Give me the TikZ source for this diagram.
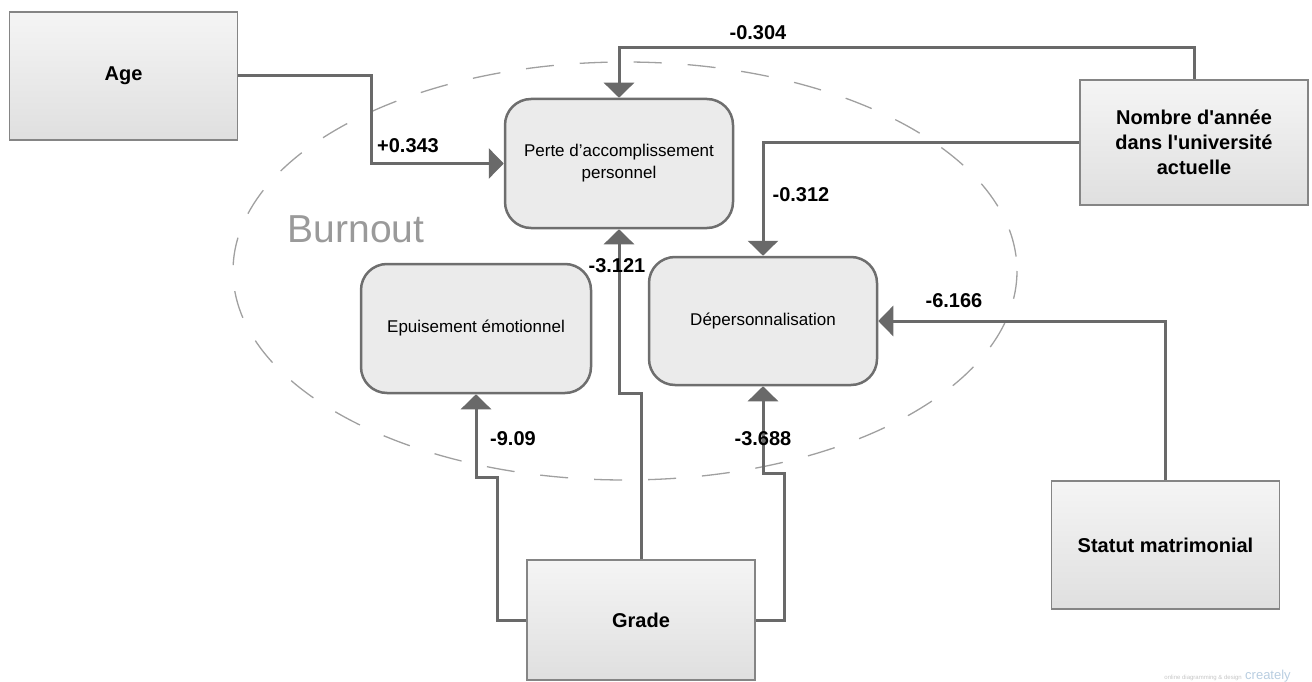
\documentclass[tikz,border=0pt]{standalone}
\usepackage{fontspec}
\setmainfont{Liberation Sans}
\usetikzlibrary{arrows.meta}
\definecolor{linegray}{HTML}{696969}
\definecolor{boxborder}{HTML}{858585}
\definecolor{roundborder}{HTML}{6E6E6E}
\definecolor{roundfill}{HTML}{EBEBEB}
\definecolor{ellgray}{HTML}{A0A0A0}
\definecolor{burngray}{HTML}{9A9A9A}
\definecolor{watermark}{HTML}{B8CDE0}
\tikzset{
  factor/.style={draw=boxborder, line width=1.5pt, top color=gray!8, bottom color=gray!25,
    minimum width=228pt, inner sep=0pt, align=center,
    font=\fontsize{20}{25}\selectfont\bfseries},
  dimension/.style={draw=roundborder, line width=2.5pt, fill=roundfill, rounded corners=26pt,
    minimum width=228pt, minimum height=128pt, inner sep=0pt, align=center,
    font=\fontsize{17}{22}\selectfont},
  arr/.style={draw=linegray, line width=3pt, -{Triangle[width=30pt,length=15pt]}, fill=none},
  coef/.style={font=\fontsize{20}{24}\selectfont\bfseries, inner sep=0pt},
}
\begin{document}
\begin{tikzpicture}[x=1pt,y=-1pt]
\useasboundingbox (0,0) rectangle (1312,682);
% Burnout ellipse
\draw[ellgray, line width=1.3pt, dash pattern=on 28pt off 26pt] (625,271) ellipse [x radius=392, y radius=209];
\node[text=burngray, font=\fontsize{39}{39}\selectfont, inner sep=0pt] (burnout) at (356,229) {Burnout};
% factor boxes
\node[factor, minimum height=128pt] (age) at (123.5,76) {Age};
\node[factor, minimum height=125pt] (nombre) at (1194,142.5) {Nombre d\textquotesingle année\\dans l\textquotesingle université\\actuelle};
\node[factor, minimum height=128pt] (statut) at (1165.5,545) {Statut matrimonial};
\node[factor, minimum height=120pt] (grade) at (641,620) {Grade};
% dimension boxes
\node[dimension, minimum height=129pt] (perte) at (619,163.5) {Perte d’accomplissement\\personnel};
\node[dimension, minimum width=230pt, minimum height=129pt] (epu) at (476,328.5) {Epuisement émotionnel};
\node[dimension] (dep) at (763,321) {Dépersonnalisation};
% junction coordinates
\coordinate (ageturn) at (371,76);
\coordinate (nomtop) at (1194,48);
\coordinate (gradeup) at (641,393);
\coordinate (gradeleft) at (497,477);
\coordinate (graderight) at (784,473);
% connectors
\draw[arr] (age.east) -- (ageturn) |- (perte.west);
\draw[arr] (nombre.north) -- (nomtop) -| (perte.north);
\draw[arr] (nombre.west) -| (dep.north);
\draw[arr] (statut.north) |- (dep.east);
\draw[arr] (grade.north) -- (gradeup) -| (perte.south);
\draw[arr] (grade.west) -| (gradeleft) -| (epu.south);
\draw[arr] (grade.east) -| (graderight) -| (dep.south);
% coefficients
\node[coef] (c1) at (408,146) {+0.343};
\node[coef] (c2) at (758,33) {-0.304};
\node[coef] (c3) at (801,195) {-0.312};
\node[coef] (c4) at (617,266) {-3.121};
\node[coef] (c5) at (954,301) {-6.166};
\node[coef] (c6) at (513,439) {-9.09};
\node[coef] (c7) at (763,439) {-3.688};
% watermark
\node[text=gray!45, font=\fontsize{6}{6}\selectfont, inner sep=0pt, anchor=east] (wm1) at (1242,678) {online diagramming \& design};
\node[text=watermark, font=\fontsize{13}{13}\selectfont, inner sep=0pt, anchor=west] (wm2) at (1245,676) {creately};
\end{tikzpicture}
\end{document}
